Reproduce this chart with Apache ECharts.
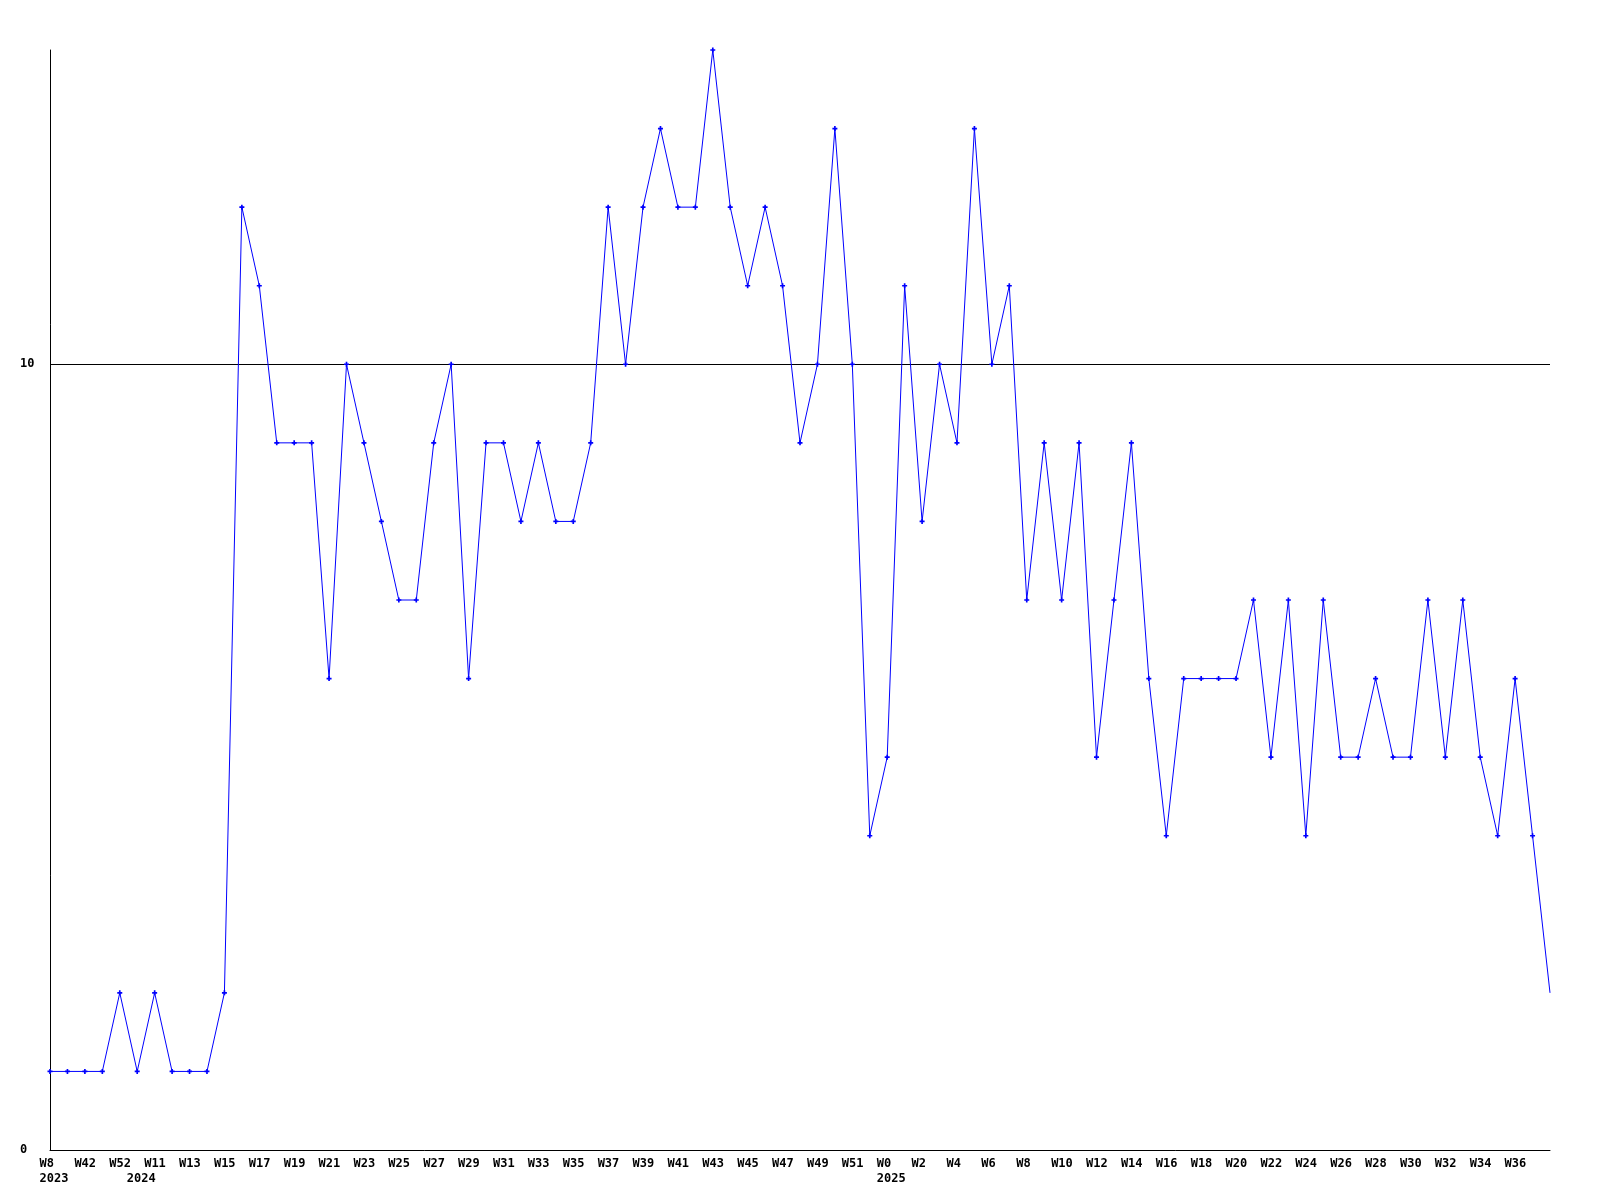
<!DOCTYPE html>
<html>
<head>
<meta charset="utf-8">
<script src="https://cdn.jsdelivr.net/npm/echarts@6/dist/echarts.min.js"></script>
<style>html,body{margin:0;padding:0;background:#fff}#c{width:1600px;height:1200px}</style>
</head>
<body>
<div id="c"></div>
<script>
// Week labels (every other one is shown on the axis)
const weeks = [
  'W8','W41','W42','W51','W52','W10','W11','W12','W13','W14',
  'W15','W16','W17','W18','W19','W20','W21','W22','W23','W24',
  'W25','W26','W27','W28','W29','W30','W31','W32','W33','W34',
  'W35','W36','W37','W38','W39','W40','W41','W42','W43','W44',
  'W45','W46','W47','W48','W49','W50','W51','W52','W0','W1',
  'W2','W3','W4','W5','W6','W7','W8','W9','W10','W11',
  'W12','W13','W14','W15','W16','W17','W18','W19','W20','W21',
  'W22','W23','W24','W25','W26','W27','W28','W29','W30','W31',
  'W32','W33','W34','W35','W36','W37','W38'
];
// Year marker at the first point of each year
const yearStarts = {0: '2023', 5: '2024', 48: '2025'};
const values = [
  1,1,1,1,2,1,2,1,1,1,
  2,12,11,9,9,9,6,10,9,8,
  7,7,9,10,6,9,9,8,9,8,
  8,9,12,10,12,13,12,12,14,12,
  11,12,11,9,10,13,10,4,5,11,
  8,10,9,13,10,11,7,9,7,9,
  5,7,9,6,4,6,6,6,6,7,
  5,7,4,7,5,5,6,5,5,7,
  5,7,5,4,6,4,2
];
const yTickLabels = ['0','10'];
const refLine = 10;

const FONT = '"DejaVu Sans Mono", "Liberation Mono", monospace';
const chart = echarts.init(document.getElementById('c'), null, {renderer: 'canvas'});

const lastIdx = values.length - 1;
const seriesData = values.map((v, i) => i === lastIdx ? {value: v, symbol: 'none'} : v);

chart.setOption({
  animation: false,
  backgroundColor: '#ffffff',
  grid: {left: 50, right: 50, top: 50, bottom: 50, containLabel: false},
  xAxis: {
    type: 'category',
    data: weeks,
    boundaryGap: false,
    axisLine: {show: true, lineStyle: {color: '#000', width: 1}},
    axisTick: {show: false},
    splitLine: {show: false},
    axisLabel: {
      interval: 0,
      margin: 6,
      width: 21,
      align: 'center',
      verticalAlign: 'top',
      fontFamily: FONT,
      fontWeight: 'bold',
      fontSize: 12,
      color: '#000',
      lineHeight: 15,
      formatter: function (val, idx) {
        if (idx === lastIdx) return '';
        if (idx % 2 !== 0 && !yearStarts[idx]) return '';
        const w = idx % 2 === 0 ? '{w|' + val + '}' : '{w| }';
        const y = yearStarts[idx] ? '\n{y|' + yearStarts[idx] + '}' : '';
        return w + y;
      },
      rich: {
        w: {align: 'left', fontFamily: FONT, fontWeight: 'bold', fontSize: 12, color: '#000', lineHeight: 15},
        y: {align: 'left', fontFamily: FONT, fontWeight: 'bold', fontSize: 12, color: '#000', lineHeight: 15}
      }
    }
  },
  yAxis: {
    type: 'value',
    min: 0,
    max: 14,
    interval: 10,
    axisLine: {show: true, lineStyle: {color: '#000', width: 1}},
    axisTick: {show: false},
    splitLine: {show: false},
    axisLabel: {
      margin: 30,
      align: 'left',
      fontFamily: FONT,
      fontWeight: 'bold',
      fontSize: 12,
      color: '#000',
      showMaxLabel: false,
      formatter: function (v) {
        const s = String(v);
        return yTickLabels.indexOf(s) >= 0 ? s : '';
      }
    }
  },
  series: [{
    type: 'line',
    data: seriesData,
    symbol: 'path://M1,0H2V1H3V2H2V3H1V2H0V1H1Z',
    symbolSize: 5,
    showSymbol: true,
    showAllSymbol: true,
    itemStyle: {color: '#0000ff'},
    lineStyle: {color: '#0000ff', width: 1},
    z: 3,
    markLine: {
      silent: true,
      symbol: 'none',
      label: {show: false},
      lineStyle: {color: '#000', width: 1, type: 'solid'},
      data: [{yAxis: refLine}],
      z: 2
    }
  }]
});
</script>
</body>
</html>
